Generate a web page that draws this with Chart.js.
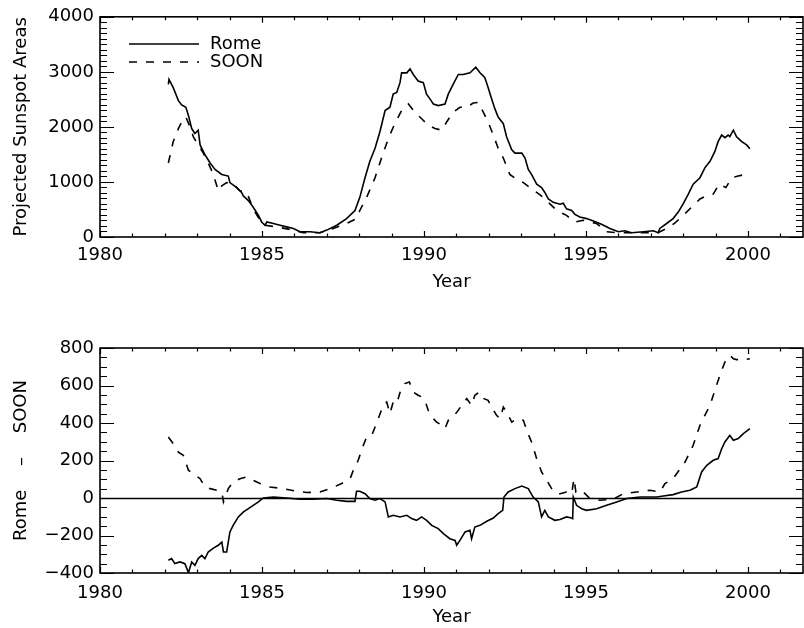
<!DOCTYPE html>
<html>
<head>
<meta charset="utf-8">
<script src="https://cdn.jsdelivr.net/npm/chart.js@4.4.1/dist/chart.umd.min.js"></script>
<style>
  html, body { margin: 0; padding: 0; background: #fff; }
  #wrap { position: relative; width: 804px; height: 628px; }
  canvas { position: absolute; left: 0; }
</style>
</head>
<body>
<div id="wrap">
  <canvas id="areaChart" width="804" height="314" style="top:0"></canvas>
  <canvas id="diffChart" width="804" height="314" style="top:314px"></canvas>
</div>
<script>
// Projected sunspot areas, Rome vs SOON
const romeYear = [1982.11,1982.13,1982.26,1982.42,1982.52,1982.65,1982.73,1982.83,1982.93,1983.03,1983.09,1983.24,1983.40,1983.55,1983.76,1983.96,1984.01,1984.22,1984.37,1984.42,1984.58,1984.73,1984.89,1984.99,1985.09,1985.15,1985.35,1985.56,1985.76,1985.97,1986.17,1986.48,1986.79,1987.00,1987.31,1987.61,1987.87,1988.02,1988.18,1988.33,1988.49,1988.64,1988.80,1988.95,1989.05,1989.16,1989.26,1989.31,1989.47,1989.57,1989.67,1989.82,1989.98,1990.08,1990.19,1990.29,1990.44,1990.65,1990.75,1990.90,1991.06,1991.21,1991.42,1991.60,1991.73,1991.88,1991.98,1992.09,1992.19,1992.29,1992.45,1992.55,1992.71,1992.81,1993.02,1993.12,1993.22,1993.32,1993.48,1993.63,1993.73,1993.84,1993.99,1994.20,1994.30,1994.40,1994.56,1994.66,1994.81,1995.02,1995.23,1995.48,1995.74,1996.00,1996.20,1996.41,1996.77,1997.08,1997.23,1997.28,1997.49,1997.69,1997.85,1998.00,1998.16,1998.31,1998.52,1998.67,1998.83,1998.98,1999.08,1999.19,1999.29,1999.39,1999.44,1999.55,1999.65,1999.81,1999.96,2000.06];
const romeArea = [2774,2863,2714,2477,2399,2357,2209,1970,1881,1941,1673,1494,1345,1227,1137,1107,988,898,809,750,661,541,393,273,214,273,245,214,184,155,95,95,77,125,214,334,482,720,1077,1375,1613,1911,2298,2357,2595,2625,2804,2982,2982,3054,2952,2834,2804,2595,2505,2416,2387,2416,2595,2774,2952,2952,2982,3084,2982,2893,2714,2505,2327,2179,2059,1821,1584,1523,1523,1434,1227,1137,959,898,809,691,630,595,613,512,482,411,363,334,292,232,155,95,113,77,95,113,77,155,245,334,452,602,780,959,1077,1256,1375,1554,1732,1852,1804,1852,1821,1941,1821,1732,1673,1602];

const soonYear = [1982.11,1982.26,1982.42,1982.57,1982.65,1982.78,1982.88,1983.03,1983.19,1983.34,1983.50,1983.65,1983.76,1983.91,1984.11,1984.32,1984.53,1984.73,1984.94,1985.09,1985.45,1985.97,1986.27,1986.79,1987.20,1987.61,1987.92,1988.02,1988.23,1988.49,1988.69,1988.90,1989.10,1989.31,1989.52,1989.72,1989.93,1990.13,1990.34,1990.55,1990.70,1990.90,1991.11,1991.32,1991.52,1991.68,1991.83,1991.98,1992.14,1992.29,1992.45,1992.65,1992.86,1993.07,1993.27,1993.48,1993.68,1993.89,1994.10,1994.20,1994.40,1994.66,1994.92,1995.12,1995.33,1995.64,1996.00,1996.77,1997.23,1997.49,1997.75,1998.00,1998.26,1998.52,1998.73,1998.93,1999.11,1999.32,1999.50,1999.70,1999.91,2000.06];
const soonArea = [1345,1732,1970,2148,2179,2000,1821,1673,1523,1345,1137,839,929,988,959,839,809,512,304,214,184,125,77,77,155,245,334,482,720,1077,1434,1791,2059,2298,2416,2268,2148,2030,1970,1941,2089,2268,2357,2357,2434,2446,2268,2089,1852,1613,1434,1137,1048,988,898,809,720,602,482,452,393,273,304,273,245,95,77,77,77,155,256,393,541,691,750,780,959,898,1077,1107,1137,1100];

// Rome - SOON differences (two comparisons)
const diffSolidYear = [1982.11,1982.21,1982.31,1982.47,1982.62,1982.73,1982.83,1982.93,1983.03,1983.14,1983.24,1983.34,1983.50,1983.65,1983.76,1983.81,1983.91,1984.01,1984.11,1984.27,1984.42,1984.58,1984.73,1984.89,1985.04,1985.35,1985.76,1986.17,1986.58,1987.00,1987.31,1987.61,1987.87,1987.92,1988.02,1988.18,1988.33,1988.49,1988.64,1988.80,1988.90,1989.05,1989.26,1989.47,1989.62,1989.77,1989.93,1990.08,1990.24,1990.44,1990.60,1990.80,1990.96,1991.01,1991.11,1991.27,1991.42,1991.47,1991.57,1991.73,1991.94,1992.14,1992.29,1992.43,1992.47,1992.60,1992.81,1993.02,1993.22,1993.37,1993.53,1993.63,1993.73,1993.84,1994.04,1994.20,1994.40,1994.56,1994.59,1994.61,1994.71,1994.87,1995.02,1995.33,1995.64,1995.95,1996.26,1996.67,1997.18,1997.39,1997.69,1997.95,1998.21,1998.42,1998.57,1998.73,1998.93,1999.08,1999.19,1999.29,1999.44,1999.55,1999.70,1999.86,2000.06];
const diffSolid = [-332,-323,-350,-341,-350,-398,-341,-359,-323,-306,-323,-288,-267,-252,-235,-288,-288,-181,-146,-101,-75,-57,-39,-21,0,5,0,-7,-7,-3,-12,-18,-18,36,36,23,-3,-12,-3,-21,-101,-92,-101,-92,-110,-119,-101,-119,-146,-163,-190,-217,-226,-252,-226,-181,-172,-217,-155,-146,-124,-107,-83,-66,5,32,50,64,50,5,-21,-101,-66,-101,-119,-115,-101,-107,-110,5,-39,-57,-66,-57,-39,-21,-3,5,5,11,18,32,41,59,139,174,201,210,263,299,334,308,317,343,370];

const diffDashedYear = [1982.11,1982.26,1982.42,1982.57,1982.73,1982.88,1983.09,1983.24,1983.40,1983.60,1983.76,1983.81,1983.96,1984.11,1984.32,1984.53,1984.73,1984.94,1985.25,1985.66,1986.07,1986.38,1986.79,1987.10,1987.46,1987.72,1987.82,1987.97,1988.13,1988.23,1988.39,1988.49,1988.59,1988.74,1988.85,1988.95,1989.05,1989.16,1989.28,1989.41,1989.55,1989.67,1989.82,1989.93,1990.03,1990.13,1990.24,1990.39,1990.55,1990.65,1990.75,1990.90,1991.06,1991.16,1991.32,1991.47,1991.57,1991.71,1991.85,1991.98,1992.09,1992.24,1992.35,1992.45,1992.55,1992.71,1992.86,1993.07,1993.17,1993.32,1993.48,1993.63,1993.79,1993.94,1994.10,1994.20,1994.40,1994.56,1994.63,1994.69,1994.87,1995.12,1995.43,1995.84,1996.15,1996.57,1996.98,1997.28,1997.44,1997.69,1998.06,1998.31,1998.52,1998.67,1998.83,1999.03,1999.19,1999.29,1999.44,1999.55,1999.75,2000.06];
const diffDashed = [325,290,245,228,148,130,103,59,50,41,32,-21,50,85,103,112,94,77,59,50,36,29,32,50,77,103,148,201,281,325,334,379,423,494,512,450,512,503,574,610,619,565,548,539,521,468,432,405,388,370,414,432,468,494,530,494,548,565,530,521,485,441,423,485,459,405,423,414,361,299,210,139,94,50,23,23,32,23,103,32,41,-3,-12,-7,23,32,41,32,77,103,192,281,388,441,494,601,681,725,761,743,734,743];

// tick labels
const yearTicks = [1980, 1985, 1990, 1995, 2000];
const areaTicks = [0, 1000, 2000, 3000, 4000];
const diffTicks = [-400, -200, 0, 200, 400, 600, 800];

const FONT = "'DejaVu Sans', sans-serif";
const DASH = [8, 9];

function pairs(xs, ys) {
  return xs.map((x, i) => ({ x: x, y: ys[i] }));
}

function steps(min, max, step) {
  const out = [];
  for (let k = Math.ceil(min / step - 1e-6); k * step <= max + 1e-6; k++) out.push(k * step);
  return out;
}

// IDL-style frame: box, inward ticks on all four sides, optional zero line and legend
const idlFrame = {
  id: 'idlFrame',
  afterDatasetsDraw(chart, args, opts) {
    const { ctx, chartArea: a } = chart;
    const xs = chart.scales.x, ys = chart.scales.y;
    ctx.save();
    ctx.strokeStyle = '#000';
    ctx.fillStyle = '#000';

    if (opts.zeroLine) {
      const py = Math.round(ys.getPixelForValue(0)) + 0.5;
      ctx.lineWidth = 1.3;
      ctx.beginPath();
      ctx.moveTo(a.left, py);
      ctx.lineTo(a.right, py);
      ctx.stroke();
    }

    ctx.lineWidth = 1.6;
    ctx.strokeRect(a.left, a.top, a.right - a.left, a.bottom - a.top);

    ctx.lineWidth = 1.2;
    ctx.beginPath();
    steps(xs.min, xs.max, opts.xMinor).forEach(v => {
      const major = Math.abs(v / opts.xMajor - Math.round(v / opts.xMajor)) < 1e-6;
      const len = major ? 6 : 3.5;
      const px = Math.round(xs.getPixelForValue(v)) + 0.5;
      ctx.moveTo(px, a.bottom); ctx.lineTo(px, a.bottom - len);
      ctx.moveTo(px, a.top); ctx.lineTo(px, a.top + len);
    });
    steps(ys.min, ys.max, opts.yMinor).forEach(v => {
      const major = Math.abs(v / opts.yMajor - Math.round(v / opts.yMajor)) < 1e-6;
      const len = major ? 14 : 7;
      const py = Math.round(ys.getPixelForValue(v)) + 0.5;
      ctx.moveTo(a.left, py); ctx.lineTo(a.left + len, py);
      ctx.moveTo(a.right, py); ctx.lineTo(a.right - len, py);
    });
    ctx.stroke();

    (opts.legend || []).forEach(item => {
      ctx.lineWidth = 1.6;
      ctx.setLineDash(item.dash);
      ctx.beginPath();
      ctx.moveTo(129, item.y);
      ctx.lineTo(199, item.y);
      ctx.stroke();
      ctx.setLineDash([]);
      ctx.font = '18px ' + FONT;
      ctx.textBaseline = 'middle';
      ctx.fillText(item.text, 210, item.y);
    });
    ctx.restore();
  }
};

function numLabel(v) {
  return v < 0 ? '\u2212' + Math.abs(v) : String(v);
}

function makeChart(id, cfg) {
  const H = 314;
  return new Chart(document.getElementById(id), {
    type: 'line',
    data: { datasets: cfg.datasets },
    options: {
      responsive: false,
      animation: false,
      layout: { padding: { left: 0, right: 1, top: cfg.top, bottom: 0 } },
      plugins: {
        legend: { display: false },
        tooltip: { enabled: false },
        idlFrame: cfg.frame
      },
      scales: {
        x: {
          type: 'linear',
          min: 1980,
          max: 2001.7,
          afterBuildTicks: s => { s.ticks = yearTicks.map(v => ({ value: v })); },
          afterFit: s => { s.height = H - cfg.bottom; },
          grid: { display: false, drawTicks: false },
          border: { display: false },
          ticks: {
            color: '#000', font: { family: FONT, size: 18 },
            padding: cfg.xPad, maxRotation: 0, autoSkip: false,
            callback: v => String(v)
          },
          title: {
            display: true, text: 'Year', color: '#000',
            font: { family: FONT, size: 18 },
            padding: { top: 0, bottom: cfg.titlePad }
          }
        },
        y: {
          type: 'linear',
          min: cfg.yMin,
          max: cfg.yMax,
          afterBuildTicks: s => { s.ticks = cfg.yTicks.map(v => ({ value: v })); },
          afterFit: s => { s.width = 100; },
          grid: { display: false, drawTicks: false },
          border: { display: false },
          ticks: {
            color: '#000', font: { family: FONT, size: 18 },
            padding: 6, autoSkip: false,
            callback: v => numLabel(v)
          },
          title: {
            display: true, text: cfg.yTitle, color: '#000',
            font: { family: FONT, size: 18 },
            padding: { top: 11, bottom: 0 }
          }
        }
      }
    },
    plugins: [idlFrame]
  });
}

function line(points, dash) {
  return {
    data: points,
    borderColor: '#000',
    borderWidth: 1.6,
    borderDash: dash,
    pointRadius: 0,
    tension: 0,
    fill: false
  };
}

makeChart('areaChart', {
  top: 13, bottom: 237, xPad: 8, titlePad: 21,
  yMin: 0, yMax: 4000, yTicks: areaTicks,
  yTitle: 'Projected Sunspot Areas',
  datasets: [
    line(pairs(romeYear, romeArea), []),
    line(pairs(soonYear, soonArea), DASH)
  ],
  frame: {
    xMinor: 1, xMajor: 5, yMinor: 100, yMajor: 1000,
    legend: [
      { text: 'Rome', dash: [], y: 44 },
      { text: 'SOON', dash: DASH, y: 62 }
    ]
  }
});

makeChart('diffChart', {
  top: 34, bottom: 259, xPad: 10, titlePad: 0,
  yMin: -400, yMax: 800, yTicks: diffTicks,
  yTitle: 'Rome \u2003\u2013\u2003 SOON',
  datasets: [
    line(pairs(diffSolidYear, diffSolid), []),
    line(pairs(diffDashedYear, diffDashed), DASH)
  ],
  frame: { xMinor: 1, xMajor: 5, yMinor: 50, yMajor: 200, zeroLine: true }
});
</script>
</body>
</html>
